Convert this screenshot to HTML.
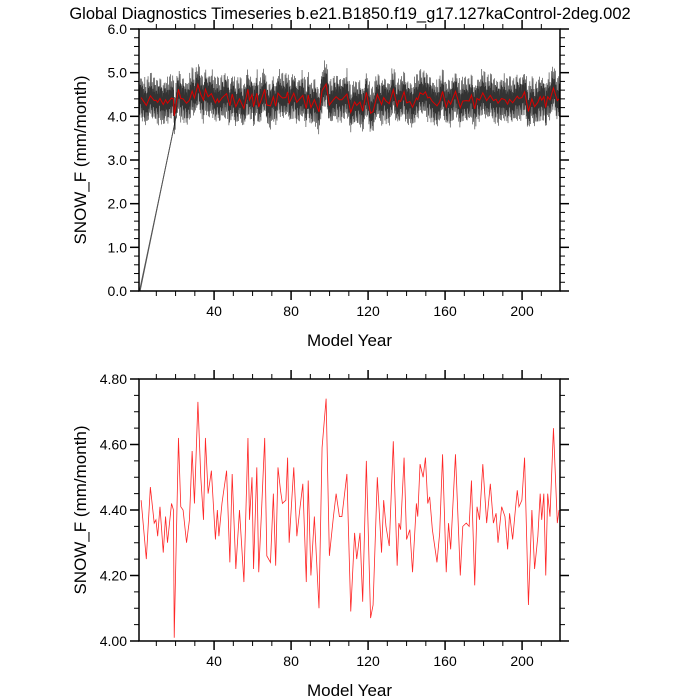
<!DOCTYPE html>
<html><head><meta charset="utf-8"><style>
html,body{margin:0;padding:0;background:#fff}
svg{display:block}
text{font-family:"Liberation Sans",sans-serif;fill:#000}
</style></head><body>
<svg id="chart" width="700" height="700" viewBox="0 0 700 700" xmlns="http://www.w3.org/2000/svg">
<text x="350" y="19" font-size="16.5" text-anchor="middle">Global Diagnostics Timeseries b.e21.B1850.f19_g17.127kaControl-2deg.002</text>
<g id="top"></g>
<g id="bot"></g>
</svg>
<script>
// Annual-mean SNOW_F (mm/month): sampled years and values
const years = [2.1,4.8,6.9,8.9,9.8,10.7,11.9,13.6,14.8,15.8,17.9,18.9,19.3,21.5,22.7,23.9,25.7,27.2,28.6,29.8,31.6,33.1,34.5,35.5,36.9,38.6,40.7,41.7,42.5,44.1,44.8,46.5,48.2,49.4,51.3,53.2,55.5,57.6,58.4,59.7,60.5,62.2,63.2,64.6,66.3,67.4,69.3,70.8,72.0,73.2,74.5,75.5,77.3,78.2,79.0,81.4,83.0,84.5,86.1,87.9,88.9,90.3,92.1,94.5,96.1,98.2,99.9,102,103.4,105.1,106.4,109.0,111.0,113.0,114.1,115.8,117.2,119.1,121.3,122.6,124.8,127.0,128.1,129.3,131.0,133.1,135.1,136.0,136.9,138.7,140.0,141.7,143.1,145.1,145.8,147.0,148.6,149.8,151.0,152.0,153.4,155.8,157.2,158.7,160.6,161.8,162.9,165.4,167.9,169.2,171.0,172.5,173.7,175.4,176.6,177.9,179.6,181.6,183.5,185.1,186.5,187.5,189.4,191.1,192.5,193.5,195.1,196.5,197.5,198.4,199.9,201.3,203.3,205.1,206.5,208.2,209.4,210.2,211.3,212.3,213.3,214.5,216.3,218.3,219.2];
const values = [4.43,4.25,4.47,4.36,4.37,4.32,4.41,4.27,4.38,4.30,4.42,4.40,4.01,4.62,4.41,4.40,4.30,4.37,4.58,4.42,4.73,4.50,4.37,4.62,4.45,4.52,4.31,4.40,4.32,4.42,4.45,4.52,4.24,4.51,4.22,4.40,4.18,4.62,4.37,4.50,4.22,4.53,4.21,4.39,4.62,4.26,4.24,4.45,4.23,4.53,4.46,4.42,4.43,4.56,4.30,4.53,4.32,4.40,4.48,4.18,4.49,4.20,4.38,4.10,4.59,4.74,4.26,4.38,4.45,4.38,4.38,4.51,4.09,4.33,4.25,4.33,4.12,4.55,4.07,4.11,4.50,4.27,4.43,4.35,4.29,4.61,4.23,4.36,4.34,4.56,4.31,4.34,4.21,4.42,4.38,4.54,4.50,4.56,4.42,4.44,4.34,4.24,4.33,4.57,4.21,4.36,4.28,4.57,4.20,4.35,4.36,4.35,4.49,4.17,4.41,4.37,4.54,4.36,4.48,4.36,4.39,4.30,4.41,4.38,4.28,4.39,4.31,4.40,4.46,4.41,4.43,4.56,4.11,4.40,4.22,4.32,4.45,4.37,4.45,4.20,4.45,4.38,4.65,4.36,4.40];
// Approximate monthly anomalies (mm/month), cycled through the record
const seasonal = [0.42,0.15,-0.05,-0.45,-0.28,0.30,0.05,-0.20,0.55,0.20,-0.15,-0.50,0.25,-0.35,0.60,0.00,-0.25,0.35,-0.55,0.10];
// Spin-up segment (year, value)
const spinYears = [1.2,19.2,1.4,19.8,1.6,20.4];
const spinVals = [0,3.75,0,3.9,0,4.02];
const topYTicks = ["0.0","1.0","2.0","3.0","4.0","5.0","6.0"];
const botYTicks = ["4.00","4.20","4.40","4.60","4.80"];
const xTicks = [40,80,120,160,200];

const NS="http://www.w3.org/2000/svg";
function el(p,t,a){const e=document.createElementNS(NS,t);for(const k in a)e.setAttribute(k,a[k]);p.appendChild(e);return e;}

function panel(g,top,bottom,ymin,ymax,yMajor,yMinor,yLabels,drawData){
  const L=139,R=560,X0=1,X1=219.7;
  const sx=v=>L+(v-X0)/(X1-X0)*(R-L);
  const sy=v=>bottom-(v-ymin)/(ymax-ymin)*(bottom-top);
  drawData(sx,sy);
  for(let v=10;v<X1;v+=10){
    const maj=v%40===0, len=maj?9:5;
    const t1=el(g,'line',{x1:sx(v),x2:sx(v),y1:bottom,y2:bottom+len,stroke:'#000','stroke-width':maj?1.5:1});
    
    
    const t2=el(g,'line',{x1:sx(v),x2:sx(v),y1:top,y2:top-len,stroke:'#000','stroke-width':maj?1.5:1});
    
    
  }
  xTicks.forEach(v=>{
    const t=el(g,'text',{x:sx(v),y:bottom+25,'font-size':14,'text-anchor':'middle'});t.textContent=v;
    
    
  });
  const n=Math.round((ymax-ymin)/yMinor);
  for(let i=0;i<=n;i++){
    const v=ymin+i*yMinor, maj=Math.abs(((v-ymin)/yMajor)-Math.round((v-ymin)/yMajor))<1e-6, len=maj?9:5;
    const a=el(g,'line',{x1:L,x2:L-len,y1:sy(v),y2:sy(v),stroke:'#000','stroke-width':maj?1.5:1});
    
    
    const b=el(g,'line',{x1:R,x2:R+len,y1:sy(v),y2:sy(v),stroke:'#000','stroke-width':maj?1.5:1});
    
    
  }
  yLabels.forEach((s,i)=>{
    const t=el(g,'text',{x:L-12,y:sy(ymin+i*yMajor)+5,'font-size':14,'text-anchor':'end'});t.textContent=s;
    
    
  });
  const f=el(g,'rect',{x:L,y:top,width:R-L,height:bottom-top,fill:'none',stroke:'#000','stroke-width':1.5});
  
  
  const xt=el(g,'text',{x:(L+R)/2,y:bottom+55,'font-size':17,'text-anchor':'middle'});xt.textContent='Model Year';
  
  
  const cy=(top+bottom)/2;
  const yt=el(g,'text',{x:0,y:0,'font-size':17,'text-anchor':'middle',transform:`translate(86,${cy}) rotate(-90)`});yt.textContent='SNOW_F (mm/month)';
  
  
}

function annualAt(y){
  if(y<=years[0]) return values[0];
  for(let i=1;i<years.length;i++) if(years[i]>=y){const a=years[i-1],b=years[i];return values[i-1]+(values[i]-values[i-1])*(y-a)/(b-a);}
  return values[values.length-1];
}

panel(document.getElementById('top'),29,291,0,6,1,0.2,topYTicks,(sx,sy)=>{
  const g=document.getElementById('top');
  for(let i=0;i<spinYears.length;i+=2){
    const l=el(g,'line',{x1:sx(spinYears[i]),y1:sy(spinVals[i]),x2:sx(spinYears[i+1]),y2:sy(spinVals[i+1]),stroke:'#555','stroke-width':0.8});
    
    
  }
  let d='';let k=0;
  for(let y=1.2;y<=219.5;y+=1/12,k++){
    const v=annualAt(y)+seasonal[k%seasonal.length]*(0.75+0.25*((k%7)/6));
    d+=(d?'L':'M')+sx(y).toFixed(2)+','+sy(v).toFixed(2);
  }
  const p=el(g,'path',{d:d,fill:'none',stroke:'#000','stroke-width':0.6,'stroke-opacity':0.8});
  
  
  const r=el(g,'path',{d:years.map((y,i)=>(i?'L':'M')+sx(y)+','+sy(values[i])).join(''),fill:'none',stroke:'#d00','stroke-width':1});
  
  
});

panel(document.getElementById('bot'),379,641,4.0,4.8,0.2,0.05,botYTicks,(sx,sy)=>{
  const g=document.getElementById('bot');
  const r=el(g,'path',{d:years.map((y,i)=>(i?'L':'M')+sx(y)+','+sy(values[i])).join(''),fill:'none',stroke:'#f00','stroke-width':0.8,'stroke-opacity':0.85});
  
  
});
</script>
</body></html>
